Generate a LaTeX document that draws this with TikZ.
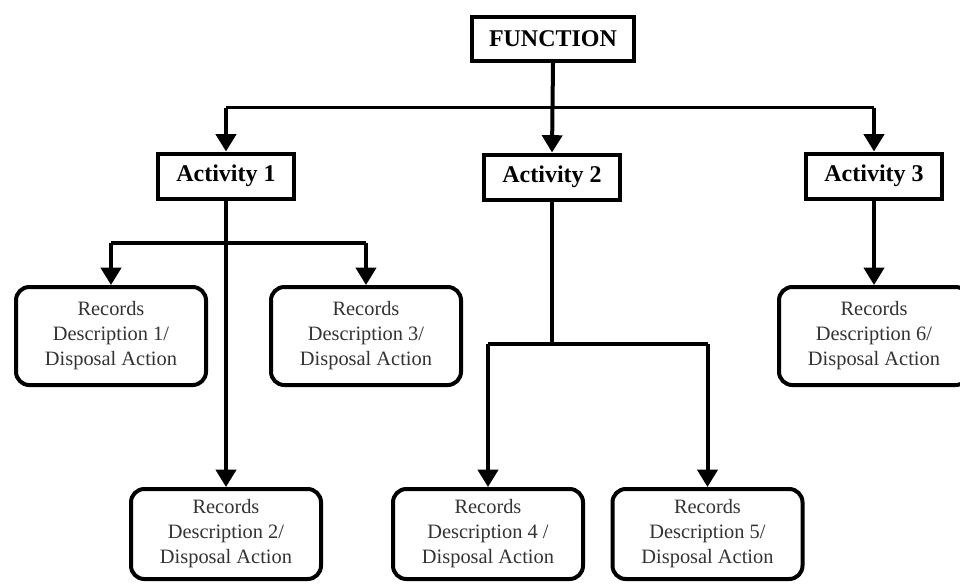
\documentclass[tikz,border=0pt]{standalone}
\usepackage{fontspec}
\setmainfont{Liberation Serif}
\usetikzlibrary{arrows.meta}
\tikzset{
  actbox/.style={draw=black, line width=3pt, fill=white, minimum width=102pt, minimum height=33.75pt, inner sep=0pt, font=\bfseries\fontsize{18}{21}\selectfont},
  funcbox/.style={actbox, minimum width=122pt, minimum height=33pt},
  recbox/.style={draw=black, line width=3pt, rounded corners=10pt, fill=white, minimum width=142.5pt, minimum height=73.5pt, inner sep=0pt, align=center, text=black!80, font=\fontsize{15.3}{18.75}\selectfont},
  recboxlow/.style={recbox, minimum height=67.5pt},
  conn/.style={draw=black, line width=3pt},
  arr/.style={conn, -{Triangle[width=15pt,length=13pt]}},
  topline/.style={draw=black, line width=2pt}
}
\begin{document}
\begin{tikzpicture}[x=0.75pt, y=-0.75pt]
\useasboundingbox (0,0) rectangle (960,583);
\fill[white] (0,0) rectangle (960,583);
\clip (0,0) rectangle (960,583);
% boxes
\node[funcbox] (F) at (553,39) {FUNCTION};
\node[actbox] (A1) at (226,176) {Activity 1};
\node[actbox] (A2) at (552,177) {Activity 2};
\node[actbox] (A3) at (874,176) {Activity 3};
\node[recbox] (R1) at (111,336) {Records\\Description 1/\\Disposal Action};
\node[recbox] (R3) at (366,336) {Records\\Description 3/\\Disposal Action};
\node[recbox] (R6) at (874,336) {Records\\Description 6/\\Disposal Action};
\node[recboxlow] (R2) at (226,534) {Records\\Description 2/\\Disposal Action};
\node[recboxlow] (R4) at (488,534) {Records\\Description 4 /\\Disposal Action};
\node[recboxlow] (R5) at (707.5,534) {Records\\Description 5/\\Disposal Action};
% coordinates
\coordinate (h) at (553,107.5);
\coordinate (b1) at (226,243);
\coordinate (b2) at (552,344);
% top level
\draw[topline] (A1.north |- h) -- (A3.north |- h);
\draw[arr] (F.south) -- (A2.north);
\draw[arr] (A1.north |- h) -- (A1.north);
\draw[arr] (A3.north |- h) -- (A3.north);
% activity 1
\draw[arr] (A1.south) -- (R2.north);
\draw[conn] (R1.north |- b1) -- (R3.north |- b1);
\draw[arr] (R1.north |- b1) -- (R1.north);
\draw[arr] (R3.north |- b1) -- (R3.north);
% activity 2
\draw[conn] (A2.south) -- (b2);
\draw[conn] (R4.north |- b2) -- (R5.north |- b2);
\draw[arr] (R4.north |- b2) -- (R4.north);
\draw[arr] (R5.north |- b2) -- (R5.north);
% activity 3
\draw[arr] (A3.south) -- (R6.north);
\end{tikzpicture}
\end{document}
